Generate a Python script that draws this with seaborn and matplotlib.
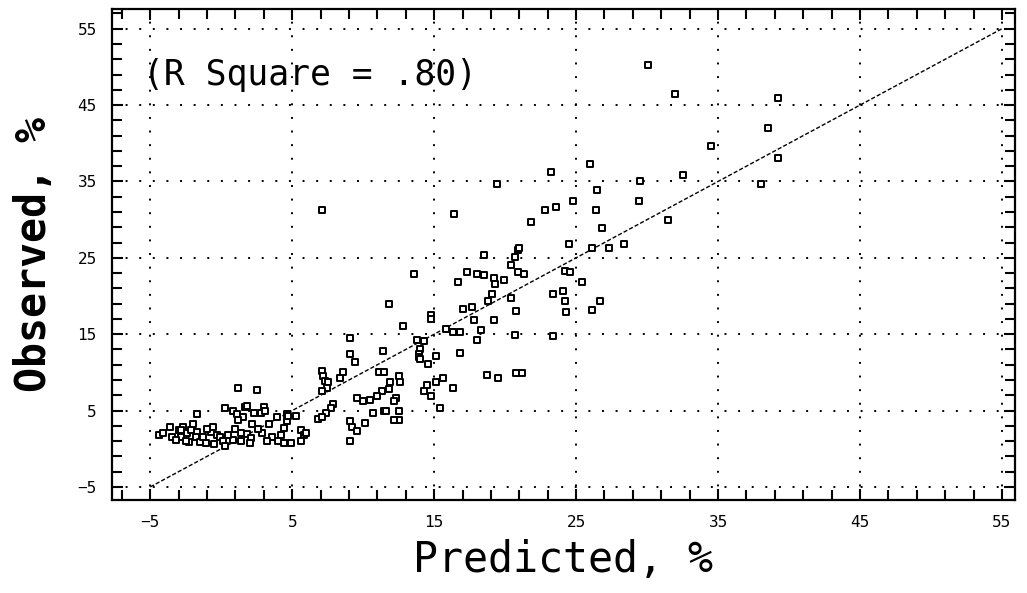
import numpy as np
import pandas as pd
import matplotlib
matplotlib.use('Agg')
import matplotlib.pyplot as plt
from matplotlib.ticker import MultipleLocator
import seaborn as sns

# ---- data (predicted %, observed %) ----
predicted = [
    # low cluster
    -4.4, -4.1, -3.5, -3.0, -2.7, -2.4, -2.1, -1.7, -2.8, -2.3, -1.8, -1.5, -1.1, -0.7,
    -0.3, -0.1, -1.7, 0.3, 0.8, 1.1, 1.5, 1.7, 2.3, 2.8, 3.0, 1.2, 2.2, 1.2, 2.5, 1.8,
    3.1, 1.4, 1.8, 4.6, 4.6, 4.4, 5.3, 5.6, 5.8, 5.6, 4.4, 4.9, 4.0, 3.6, 2.9, 2.1,
    1.4, 0.8, 0.1, -0.6, -2.8, -3.6, -2.5, -1.0, 0.5, 1.0, 2.6, 3.4, 3.9, 4.7, 6.8,
    6.0, -2.0, -1.3, -0.5, 0.3, 2.0, 3.2, 4.2, -3.2,
    # 7-13 %
    9.4, 7.1, 7.2, 7.3, 7.5, 7.45, 7.1, 8.4, 8.6, 11.1, 11.5, 12.5, 11.9, 12.6, 11.8,
    11.3, 11.0, 10.5, 10.0, 9.6, 12.3, 7.9, 7.7, 7.4, 7.1, 10.7, 11.5, 12.5, 12.5,
    12.2, 9.1, 9.2, 9.6, 10.1, 9.1, 9.1, 9.1, 11.4, 11.8, 7.1, 11.6, 12.2,
    # 13-22 %
    18.5, 20.7, 20.4, 20.9, 13.6, 17.3, 18.0, 18.5, 19.2, 19.9, 20.9, 21.3, 16.7, 19.3,
    19.1, 18.8, 20.4, 20.8, 17.7, 17.0, 17.8, 19.2, 14.8, 14.8, 12.8, 15.8, 16.3, 16.8,
    18.3, 18.0, 20.7, 13.8, 14.3, 14.0, 13.9, 15.1, 16.8, 14.6, 15.6, 15.1, 14.5, 14.3,
    14.8, 16.3, 18.7, 19.5, 20.8, 21.2, 15.4, 19.4, 16.4, 21.8, 21.0, 13.9, 14.0,
    # upper range
    23.2, 26.0, 26.5, 24.8, 22.8, 23.6, 26.4, 29.4, 29.5, 32.5, 31.5, 26.8, 24.5, 26.1,
    27.3, 28.4, 24.2, 24.6, 25.4, 23.4, 24.1, 24.2, 26.7, 24.3, 26.1, 23.4, 30.1, 32.0,
    39.2, 38.5, 39.2, 34.5, 38.0,
]
observed = [
    1.8, 2.0, 1.5, 2.5, 2.9, 2.1, 2.5, 2.2, 1.6, 0.9, 1.5, 0.9, 0.8, 2.2,
    1.8, 1.5, 4.5, 5.4, 4.9, 4.5, 4.1, 5.5, 4.7, 4.7, 5.5, 3.8, 3.2, 8.0, 7.7, 5.6,
    5.0, 2.0, 1.9, 4.5, 3.6, 2.7, 4.3, 2.5, 1.8, 1.0, 0.8, 0.8, 1.0, 1.5, 2.1, 1.4,
    1.0, 1.2, 1.0, 2.9, 2.4, 2.8, 1.0, 2.6, 1.8, 2.6, 2.6, 3.2, 4.1, 4.3, 3.9,
    2.1, 3.2, 1.6, 0.6, 0.4, 0.8, 1.0, 1.8, 1.1,
    11.4, 10.2, 9.5, 8.9, 8.7, 8.0, 7.5, 9.3, 10.0, 10.0, 10.0, 9.5, 8.7, 8.7, 7.8,
    7.5, 6.9, 6.4, 6.2, 6.7, 6.7, 5.8, 5.4, 4.7, 4.1, 4.7, 4.9, 4.9, 3.8,
    3.8, 3.6, 2.9, 2.3, 3.4, 1.0, 14.5, 12.4, 12.8, 19.0, 31.3, 4.9, 6.3,
    25.4, 25.1, 24.1, 26.0, 22.9, 23.2, 22.9, 22.7, 22.4, 22.1, 23.2, 22.9, 21.8, 21.6,
    20.3, 19.4, 19.8, 18.1, 18.5, 18.3, 16.8, 16.8, 17.5, 17.0, 16.1, 15.7, 15.3, 15.3,
    15.5, 14.3, 14.9, 14.3, 14.1, 13.0, 12.4, 12.1, 12.6, 11.1, 9.3, 8.7, 8.4, 7.5,
    6.9, 8.0, 9.7, 9.3, 9.9, 9.9, 5.3, 34.7, 30.8, 29.7, 26.3, 12.0, 11.7,
    36.2, 37.3, 33.9, 32.4, 31.3, 31.6, 31.2, 32.4, 35.0, 35.8, 30.0, 28.9, 26.8, 26.3,
    26.3, 26.8, 23.3, 23.2, 21.8, 20.3, 20.7, 19.4, 19.4, 17.9, 18.2, 14.8, 50.3, 46.4,
    45.9, 42.0, 38.1, 39.6, 34.7,
]
fit_x = [-5, 55]          # regression line (observed = predicted)
fit_y = [-5, 55]
tick_values = [-5, 5, 15, 25, 35, 45, 55]
r_square_text = "(R Square = .80)"

df = pd.DataFrame({'Predicted': predicted, 'Observed': observed})

sns.set_style('white')
plt.rcParams['font.family'] = ['DejaVu Sans Mono', 'DejaVu Sans']
plt.rcParams['text.color'] = 'black'

fig = plt.figure(figsize=(10.27, 5.93), dpi=100)
ax = fig.add_axes([0.109, 0.157, 0.879, 0.828])

# dotted grid first, so it sits under the points
for v in tick_values:
    ax.axvline(v, color='black', linestyle=(0, (1, 6)), linewidth=1.4, zorder=0)
    ax.axhline(v, color='black', linestyle=(0, (1, 6)), linewidth=1.4, zorder=0)

sns.lineplot(x=fit_x, y=fit_y, ax=ax, color='black', linewidth=1.0,
             linestyle=(0, (3, 1.5)), zorder=2)

sns.scatterplot(data=df, x='Predicted', y='Observed', ax=ax, marker='s', s=16,
                facecolor='white', edgecolor='black', linewidth=1.4, zorder=3)

ax.set_xlim(-7.7, 55.9)
ax.set_ylim(-6.7, 57.6)
ax.set_xticks(tick_values)
ax.set_yticks(tick_values)
ax.xaxis.set_minor_locator(MultipleLocator(2, offset=1))
ax.yaxis.set_minor_locator(MultipleLocator(2, offset=1))
ax.tick_params(which='both', direction='in', top=True, right=True, bottom=True, left=True,
               colors='black', labelcolor='black')
ax.tick_params(which='major', length=8, width=1.5, labelsize=11.5)
ax.tick_params(axis='x', which='major', pad=11)
ax.tick_params(axis='y', which='major', pad=11)
ax.tick_params(which='minor', length=7, width=1.5)
for side in ax.spines.values():
    side.set_linewidth(1.6)
    side.set_color('black')

ax.set_xlabel('Predicted, %', fontsize=30, color='black', labelpad=6)
ax.set_ylabel('Observed, %', fontsize=30, fontweight='bold', color='black', labelpad=16)

ax.text(-5.5, 49.0, r_square_text, fontsize=25, va='center', ha='left', color='black')

fig.savefig('out.png', dpi=100)
